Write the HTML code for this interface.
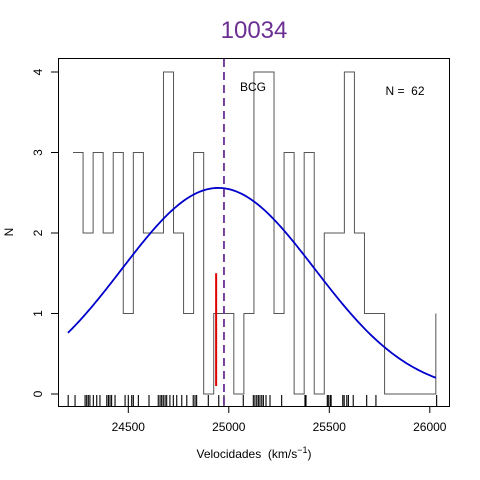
<!DOCTYPE html>
<html><head><meta charset="utf-8"><style>body{margin:0;background:#fff}svg{display:block;font-family:"Liberation Sans",sans-serif}</style></head>
<body>
<svg id="c" width="480" height="480" xmlns="http://www.w3.org/2000/svg">
<rect width="480" height="480" fill="#fff"/>
<text x="254" y="38" font-size="24" fill="#6B2E93" text-anchor="middle">10034</text>
<rect x="58.5" y="58.5" width="391" height="348" fill="none" stroke="#000"/>
<g id="ax"></g>
<g id="marks"></g>
<text x="253" y="91" font-size="12" text-anchor="middle">BCG</text>
<text x="405" y="95" font-size="12" text-anchor="middle">N =&#160; 62</text>
<text x="254" y="458" font-size="12" text-anchor="middle">Velocidades&#160; (km/s<tspan dy="-5" font-size="9">−1</tspan><tspan dy="5">)</tspan></text>
<text transform="translate(13,232) rotate(-90)" font-size="12" text-anchor="middle">N</text>
</svg>
<script>
const binStart = 24225, binWidth = 50;
const counts = [3,2,3,2,3,1,3,2,2,4,2,1,3,0,1,1,0,1,4,4,1,3,0,3,0,2,2,4,2,1,1,0,0,0,0,0];
const lastVel = 26030, lastCount = 1;
const xTicks = [24500,25000,25500,26000];
const yTicks = [0,1,2,3,4];
const rug = [24201,24235,24285,24293,24301,24309,24326,24343,24359,24393,24401,24409,24417,24434,24484,24500,24517,24525,24550,24603,24649,24658,24666,24674,24683,24691,24707,24724,24741,24766,24791,24823,24832,24840,24898,24950,24976,25072,25122,25130,25139,25147,25155,25164,25172,25185,25205,25263,25379,25384,25490,25495,25504,25509,25567,25574,25587,25595,25619,25686,25732,26034];
const gaussMean = 24948, gaussSd = 480, gaussPeak = 2.56, gaussFrom = 24200, gaussTo = 26030;
const bcgVel = 24976;
const redVel = 24937, redTop = 1.5, redBottom = 0.1;

const X = v => 128.3 + (v - 24500) * 0.201;
const Y = n => 394 - n * 80.5;
const NS = "http://www.w3.org/2000/svg";
function mk(tag, attrs, parent){const e=document.createElementNS(NS,tag);for(const k in attrs)e.setAttribute(k,attrs[k]);parent.appendChild(e);return e;}
const ax = document.getElementById('ax'), mg = document.getElementById('marks');

xTicks.forEach(t=>{
  const l=mk('line',{x1:X(t),x2:X(t),y1:406,y2:413,stroke:'#000'},ax);
  
  
  const tx=mk('text',{x:X(t),y:431,'font-size':12,'text-anchor':'middle'},ax);
  tx.textContent=t;
  
  
});
yTicks.forEach(t=>{
  const l=mk('line',{x1:51,x2:58,y1:Y(t),y2:Y(t),stroke:'#000'},ax);
  
  
  const tx=mk('text',{transform:`translate(42,${Y(t)}) rotate(-90)`,'font-size':12,'text-anchor':'middle'},ax);
  tx.textContent=t;
  
  
});

let d = `M${X(binStart)},${Y(counts[0])}`;
counts.forEach((c,i)=>{
  const x0=X(binStart+i*binWidth), x1=X(binStart+(i+1)*binWidth);
  if(i>0) d+=` L${x0},${Y(c)}`;
  d+=` L${x1},${Y(c)}`;
});
d+=` L${X(lastVel)},${Y(0)} L${X(lastVel)},${Y(lastCount)}`;
const h=mk('path',{d:d,fill:'none',stroke:'#555','stroke-width':1},mg);



rug.forEach(v=>{
  const l=mk('line',{x1:X(v),x2:X(v),y1:395,y2:406,stroke:'#000','stroke-width':1.1},mg);
  
  
});

let g='';
for(let v=gaussFrom; v<=gaussTo; v+=10){
  const n=gaussPeak*Math.exp(-((v-gaussMean)**2)/(2*gaussSd*gaussSd));
  g+=(g?' L':'M')+X(v)+','+Y(n);
}
const gp=mk('path',{d:g,fill:'none',stroke:'#0000CC','stroke-width':1.8},mg);



const b=mk('line',{x1:X(bcgVel),x2:X(bcgVel),y1:59,y2:406,stroke:'#6B2E93','stroke-width':1.8,'stroke-dasharray':'8,5'},mg);



const r=mk('line',{x1:X(redVel),x2:X(redVel),y1:Y(redTop),y2:Y(redBottom),stroke:'#E00000','stroke-width':2},mg);


</script>
</body></html>
